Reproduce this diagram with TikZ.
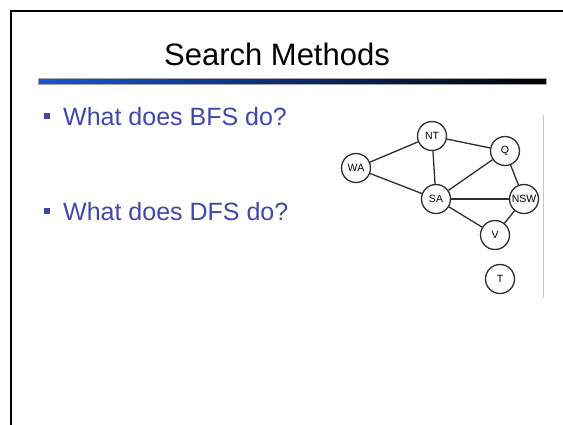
\documentclass[tikz,border=0pt]{standalone}
\usepackage{fontspec}
\setmainfont{Liberation Sans}
\definecolor{bullettext}{RGB}{64,70,170}
\definecolor{barblue}{RGB}{22,86,214}
\definecolor{edgegray}{RGB}{45,45,45}
\tikzset{
  region/.style={circle, draw=edgegray, line width=1.3pt, fill=white,
    minimum size=29pt, inner sep=0pt, font=\fontsize{10.5}{11}\selectfont},
  border/.style={edgegray, line width=1.3pt},
  bulletsq/.style={fill=bullettext, minimum size=6.5pt, inner sep=0pt},
  bullettxt/.style={text=bullettext, anchor=base west, inner sep=0pt,
    font=\fontsize{25}{28}\selectfont}
}
\begin{document}
\begin{tikzpicture}[x=1pt,y=-1pt]
  \useasboundingbox (0,0) rectangle (563,424);
  % slide frame (left and top edges inside the page)
  \draw[black, line width=1.6pt] (11,440) -- (11,11) -- (580,11);
  % title
  \node[anchor=base, inner sep=0pt, font=\fontsize{31}{34}\selectfont] (title) at (277,65) {Search Methods};
  % gradient rule under the title
  \shade[left color=barblue, right color=black, draw=gray!70, line width=0.6pt]
    (38,78) rectangle (546,84);
  % bullet points
  \node[bulletsq] (b1) at (47,116) {};
  \node[bullettxt] (t1) at (63,125) {What does BFS do?};
  \node[bulletsq] (b2) at (47,211) {};
  \node[bullettxt] (t2) at (63,220) {What does DFS do?};
  % map-colouring graph
  \draw[gray!45, line width=0.8pt] (543,115) -- (543,298);
  \node[region] (NT)  at (432,136) {NT};
  \node[region] (Q)   at (505,151) {Q};
  \node[region] (WA)  at (356,168) {WA};
  \node[region] (SA)  at (436,199) {SA};
  \node[region] (NSW) at (524,199) {NSW};
  \node[region] (V)   at (495,235) {V};
  \node[region] (T)   at (500,279) {T};
  \draw[border] (WA) -- (NT);
  \draw[border] (WA) -- (SA);
  \draw[border] (NT) -- (SA);
  \draw[border] (NT) -- (Q);
  \draw[border] (Q) -- (SA);
  \draw[border] (Q) -- (NSW);
  \draw[border, line width=1.7pt] (SA) -- (NSW);
  \draw[border] (SA) -- (V);
  \draw[border] (V) -- (NSW);
\end{tikzpicture}
\end{document}
